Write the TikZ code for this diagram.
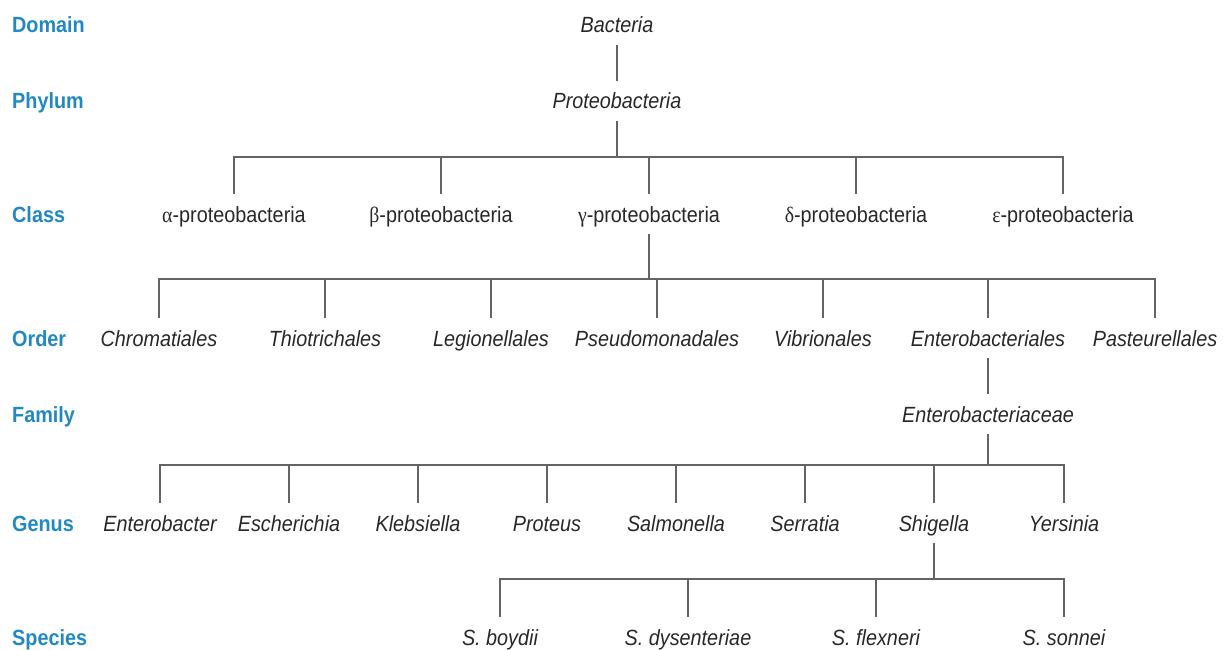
\documentclass[tikz,border=0pt]{standalone}
\usepackage{fontspec}
\setmainfont[FakeStretch=0.9]{Liberation Sans}
\newfontfamily\grk[FakeStretch=0.9]{Liberation Serif}
\usepackage{xcolor}
\usepackage{tikz}
\definecolor{rankblue}{RGB}{34,136,196}
\definecolor{inkgray}{RGB}{40,40,40}
\definecolor{linegray}{RGB}{100,100,100}

\begin{document}
\begin{tikzpicture}[
  x=1pt, y=-1pt,
  taxon/.style={anchor=base, inner xsep=0pt, inner ysep=8pt,
                text height=20pt, text depth=4pt,
                font=\fontsize{22}{26}\selectfont\itshape, text=inkgray},
  cls/.style={taxon, font=\fontsize{22}{26}\selectfont\upshape},
  rank/.style={anchor=base west, inner sep=0pt,
               font=\fontsize{22}{26}\selectfont\bfseries, text=rankblue},
  link/.style={draw=linegray, line width=1.3pt}]
  \useasboundingbox (0,0) rectangle (1223,650);
  % rank labels
  \node[rank] (rDomain)  at (12,33)  {Domain};
  \node[rank] (rPhylum)  at (12,109) {Phylum};
  \node[rank] (rClass)   at (12,222) {Class};
  \node[rank] (rOrder)   at (12,346) {Order};
  \node[rank] (rFamily)  at (12,422) {Family};
  \node[rank] (rGenus)   at (12,531) {Genus};
  \node[rank] (rSpecies) at (12,645) {Species};
  % domain, phylum
  \node[taxon] (bact)   at (617,33)  {Bacteria};
  \node[taxon] (proteo) at (617,109) {Proteobacteria};
  % classes
  \node[cls] (alpha) at (234,222)  {{\grk α}-proteobacteria};
  \node[cls] (beta)  at (441,222)  {{\grk β}-proteobacteria};
  \node[cls] (gamma) at (649,222)  {{\grk γ}-proteobacteria};
  \node[cls] (delta) at (856,222)  {{\grk δ}-proteobacteria};
  \node[cls] (eps)   at (1063,222) {{\grk ε}-proteobacteria};
  % orders
  \node[taxon] (chrom)  at (159,346)  {Chromatiales};
  \node[taxon] (thio)   at (325,346)  {Thiotrichales};
  \node[taxon] (legion) at (491,346)  {Legionellales};
  \node[taxon] (pseudo) at (657,346)  {Pseudomonadales};
  \node[taxon] (vibrio) at (823,346)  {Vibrionales};
  \node[taxon] (entero) at (988,346)  {Enterobacteriales};
  \node[taxon] (paste)  at (1155,346) {Pasteurellales};
  % family
  \node[taxon] (entfam) at (988,422) {Enterobacteriaceae};
  % genera
  \node[taxon] (enterob) at (160,531)  {Enterobacter};
  \node[taxon] (escher)  at (289,531)  {Escherichia};
  \node[taxon] (klebs)   at (418,531)  {Klebsiella};
  \node[taxon] (prot)    at (547,531)  {Proteus};
  \node[taxon] (salmo)   at (676,531)  {Salmonella};
  \node[taxon] (serra)   at (805,531)  {Serratia};
  \node[taxon] (shig)    at (934,531)  {Shigella};
  \node[taxon] (yers)    at (1064,531) {Yersinia};
  % species
  \node[taxon] (boyd)  at (500,645)  {S. boydii};
  \node[taxon] (dysen) at (688,645)  {S. dysenteriae};
  \node[taxon] (flex)  at (876,645)  {S. flexneri};
  \node[taxon] (sonn)  at (1064,645) {S. sonnei};
  % bar heights
  \coordinate (clsbar) at (0,157);
  \coordinate (ordbar) at (0,279);
  \coordinate (genbar) at (0,465);
  \coordinate (spcbar) at (0,579);
  % connectors
  \draw[link] (bact) -- (proteo);
  \draw[link] (entero) -- (entfam);
  \foreach \c in {alpha,beta,gamma,delta,eps}
    \draw[link] (proteo.south) -- (proteo.south |- clsbar) -| (\c.north);
  \foreach \c in {chrom,thio,legion,pseudo,vibrio,entero,paste}
    \draw[link] (gamma.south) -- (gamma.south |- ordbar) -| (\c.north);
  \foreach \c in {enterob,escher,klebs,prot,salmo,serra,shig,yers}
    \draw[link] (entfam.south) -- (entfam.south |- genbar) -| (\c.north);
  \foreach \c in {boyd,dysen,flex,sonn}
    \draw[link] (shig.south) -- (shig.south |- spcbar) -| (\c.north);
\end{tikzpicture}
\end{document}
